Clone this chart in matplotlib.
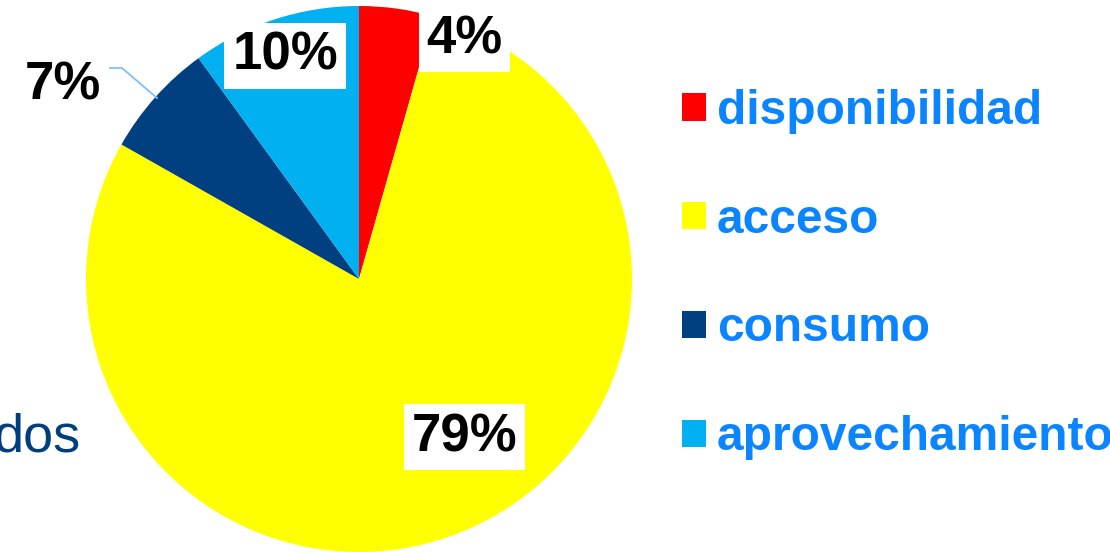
import matplotlib
matplotlib.use("Agg")
import matplotlib.pyplot as plt
from matplotlib.font_manager import FontProperties

categories = ["disponibilidad", "acceso", "consumo", "aprovechamiento"]
values = [4.4, 78.8, 6.8, 10.0]
pct_labels = ["4%", "79%", "7%", "10%"]
colors = ["#FF0000", "#FFFF00", "#003F80", "#00B0F0"]

W, H = 1110, 552
fig = plt.figure(figsize=(W / 100, H / 100), dpi=100)
ax = fig.add_axes([0, 0, 1, 1])

cx, cy, r = 359, H - 279, 273
wedges, _ = ax.pie(values, colors=colors, startangle=90, counterclock=False,
                   center=(cx, cy), radius=r, wedgeprops=dict(linewidth=0))
ax.set_xlim(0, W)
ax.set_ylim(0, H)
ax.set_aspect("equal")
ax.axis("off")

lab_font = dict(family="Liberation Sans", weight="bold", size=38, color="black")
box = dict(boxstyle="square,pad=0.15", fc="white", ec="none")
# label positions (x center, baseline y measured from top)
label_pos = {"4%": (464.5, 53), "79%": (464.5, 451), "7%": (62.5, 100), "10%": (285, 70)}
for lab in pct_labels:
    x, y = label_pos[lab]
    kw = dict(bbox=box) if lab != "7%" else {}
    ax.text(x, H - y, lab, ha="center", va="baseline", **lab_font, **kw, zorder=5)

# leader line for 7%
ax.plot([110, 122, 157], [H - 68, H - 68, H - 98], color="#7FBFFF", lw=1.3, zorder=4)

# clipped fragment of text at left
ax.text(81, H - 452, "dos", ha="right", va="baseline", family="Liberation Sans",
        size=39, color="#003F7F")

leg = ax.legend(wedges, categories, loc="upper left",
                bbox_to_anchor=(682 / W, (H - 89) / H), bbox_transform=fig.transFigure,
                frameon=False,
                prop=FontProperties(family="Liberation Sans", weight="bold", size=34.5),
                labelcolor="#0A84FF", handlelength=0.5, handleheight=0.5,
                handletextpad=0.23, labelspacing=1.33, borderpad=0, borderaxespad=0)

fig.savefig("out.png", dpi=100)
